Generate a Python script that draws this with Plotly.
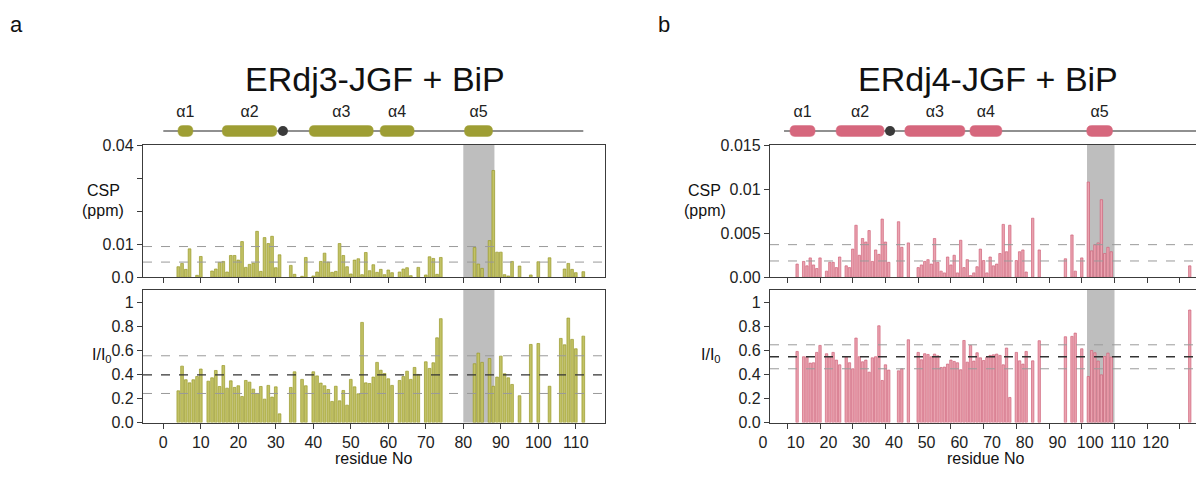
import plotly.graph_objects as go

# ---------------- data: panel a (ERdj3-JGF + BiP) ----------------
a_csp_res = [4, 5, 6, 7, 9, 10, 13, 14, 15, 16,
             17, 18, 19, 20, 21, 22, 23, 24, 25, 26,
             27, 28, 29, 30, 31, 34, 35, 37, 38, 40,
             41, 42, 43, 44, 45, 46, 47, 48, 49, 50,
             51, 52, 53, 54, 55, 56, 57, 58, 59, 60,
             61, 63, 64, 65, 66, 68, 70, 71, 72, 73,
             74, 83, 84, 85, 87, 88, 89, 90, 91, 92,
             93, 95, 98, 100, 103, 107, 108, 109, 110, 112]
a_csp_val = [0.0032, 0.0042, 0.0024, 0.0086, 0.0006, 0.0063, 0.0019, 0.0025, 0.0045, 0.0048,
             0.0016, 0.0066, 0.0066, 0.0052, 0.0108, 0.0030, 0.0039, 0.0043, 0.0139, 0.0018,
             0.0120, 0.0102, 0.0124, 0.0029, 0.0068, 0.0036, 0.0009, 0.0003, 0.0060, 0.0004,
             0.0016, 0.0048, 0.0073, 0.0046, 0.0015, 0.0018, 0.0102, 0.0066, 0.0032, 0.0010,
             0.0052, 0.0056, 0.0008, 0.0075, 0.0020, 0.0038, 0.0015, 0.0024, 0.0008, 0.0022,
             0.0014, 0.0016, 0.0025, 0.0029, 0.0005, 0.0030, 0.0007, 0.0062, 0.0057, 0.0009,
             0.0060, 0.0090, 0.0040, 0.0027, 0.0111, 0.0323, 0.0076, 0.0076, 0.0008, 0.0004,
             0.0048, 0.0034, 0.0007, 0.0047, 0.0059, 0.0025, 0.0042, 0.0024, 0.0014, 0.0017]

a_int_res = [4, 5, 6, 7, 8, 9, 10, 12, 13, 14,
             15, 16, 17, 18, 19, 20, 21, 22, 23, 24,
             25, 26, 27, 28, 29, 30, 31, 34, 35, 37,
             38, 40, 41, 42, 43, 44, 45, 46, 47, 48,
             49, 50, 51, 52, 53, 54, 55, 56, 57, 58,
             59, 60, 61, 63, 64, 65, 66, 67, 68, 70,
             71, 72, 73, 74, 83, 84, 85, 87, 88, 89,
             90, 91, 92, 93, 95, 98, 100, 103, 106, 107,
             108, 109, 110, 112]
a_int_val = [0.263, 0.468, 0.355, 0.329, 0.355, 0.382, 0.444, 0.343, 0.371, 0.432,
             0.299, 0.473, 0.285, 0.346, 0.291, 0.305, 0.216, 0.349, 0.335, 0.277,
             0.241, 0.299, 0.194, 0.308, 0.211, 0.296, 0.072, 0.291, 0.421, 0.358,
             0.305, 0.421, 0.387, 0.327, 0.305, 0.274, 0.175, 0.301, 0.180, 0.266,
             0.144, 0.358, 0.296, 0.238, 0.831, 0.329, 0.324, 0.377, 0.499, 0.434,
             0.407, 0.363, 0.308, 0.349, 0.382, 0.426, 0.358, 0.457, 0.399, 0.504,
             0.449, 0.496, 0.703, 0.862, 0.488, 0.576, 0.499, 0.531, 0.301, 0.377,
             0.551, 0.405, 0.371, 0.316, 0.222, 0.648, 0.656, 0.301, 0.698, 0.645,
             0.867, 0.690, 0.612, 0.717]

a_csp_thresholds = [0.0093, 0.0046]
a_int_mean = 0.396
a_int_sd_lines = [0.554, 0.241]
a_shade = [80.0, 88.3]
a_helix_names = ["α1", "α2", "α3", "α4", "α5"]
a_helix_start = [3.9, 15.7, 38.9, 57.8, 80.3]
a_helix_end = [7.9, 30.3, 56.0, 66.9, 87.8]
a_hpd = 31.9
a_line = [0, 112]
a_csp_ticks = [0, 0.01, 0.04]
a_csp_ticktext = ["0.0", "0.01", "0.04"]
a_csp_minor = [0.02, 0.03]

# ---------------- data: panel b (ERdj4-JGF + BiP) ----------------
b_csp_res = [3, 5, 6, 7, 8, 9, 10, 12, 13, 14,
             15, 16, 18, 19, 20, 21, 22, 23, 24, 25,
             26, 27, 28, 29, 30, 31, 34, 35, 37, 40,
             41, 42, 43, 44, 45, 46, 47, 48, 49, 50,
             51, 52, 53, 54, 55, 56, 57, 58, 59, 60,
             61, 62, 63, 64, 65, 66, 67, 68, 70, 71,
             72, 73, 75, 77, 85, 87, 88, 90, 92, 93,
             94, 95, 96, 97, 98, 99, 123]
b_csp_val = [0.0015, 0.0018, 0.0013, 0.0022, 0.0014, 0.0010, 0.0022, 0.0007, 0.0017, 0.0017,
             0.0011, 0.0023, 0.0013, 0.0011, 0.0032, 0.0059, 0.0025, 0.0044, 0.0040, 0.0053,
             0.0018, 0.0031, 0.0026, 0.0066, 0.0040, 0.0017, 0.0063, 0.0034, 0.0039, 0.0011,
             0.0014, 0.0018, 0.0020, 0.0015, 0.0044, 0.0017, 0.0007, 0.0005, 0.0023, 0.0014,
             0.0025, 0.0005, 0.0042, 0.0011, 0.0020, 0.0002, 0.0005, 0.0012, 0.0032, 0.0019,
             0.0005, 0.0023, 0.0013, 0.0015, 0.0027, 0.0060, 0.0029, 0.0059, 0.0019, 0.0029,
             0.0031, 0.0006, 0.0067, 0.0031, 0.0021, 0.0048, 0.0007, 0.0022, 0.0108, 0.0030,
             0.0037, 0.0039, 0.0088, 0.0027, 0.0034, 0.0029, 0.0013]

b_int_res = [3, 5, 6, 7, 8, 9, 10, 12, 13, 14,
             15, 16, 18, 19, 20, 21, 22, 23, 24, 25,
             26, 27, 28, 29, 30, 31, 34, 35, 37, 40,
             41, 42, 43, 44, 45, 46, 47, 48, 49, 50,
             51, 52, 53, 54, 55, 56, 57, 58, 59, 60,
             61, 62, 63, 64, 65, 66, 67, 68, 70, 71,
             72, 73, 75, 77, 85, 87, 88, 90, 92, 93,
             94, 95, 96, 97, 98, 99, 123]
b_int_val = [0.590, 0.546, 0.546, 0.493, 0.496, 0.582, 0.640, 0.571, 0.546, 0.582,
             0.518, 0.479, 0.546, 0.496, 0.446, 0.701, 0.546, 0.504, 0.518, 0.418,
             0.537, 0.546, 0.803, 0.349, 0.479, 0.435, 0.429, 0.446, 0.687, 0.582,
             0.521, 0.571, 0.565, 0.546, 0.568, 0.554, 0.457, 0.460, 0.485, 0.518,
             0.507, 0.496, 0.438, 0.681, 0.501, 0.640, 0.510, 0.579, 0.537, 0.515,
             0.540, 0.557, 0.562, 0.568, 0.557, 0.479, 0.618, 0.208, 0.582, 0.512,
             0.485, 0.590, 0.512, 0.679, 0.712, 0.715, 0.742, 0.612, 0.382, 0.598,
             0.579, 0.510, 0.396, 0.548, 0.576, 0.543, 0.934]

b_csp_thresholds = [0.0037, 0.00185]
b_int_mean = 0.546
b_int_sd_lines = [0.645, 0.446]
b_shade = [91.6, 100.0]
b_helix_names = ["α1", "α2", "α3", "α4", "α5"]
b_helix_start = [0.8, 14.9, 35.9, 55.8, 91.5]
b_helix_end = [8.5, 29.6, 54.3, 65.6, 99.4]
b_hpd = 31.4
b_line = [-1, 140]
b_csp_ticks = [0, 0.005, 0.01, 0.015]
b_csp_ticktext = ["0.00", "0.005", "0.01", "0.015"]

int_ticks = [0, 0.2, 0.4, 0.6, 0.8, 1.0]
int_ticktext = ["0.0", "0.2", "0.4", "0.6", "0.8", "1"]

x_ticks_a = list(range(0, 111, 10))
x_ticks_b = list(range(0, 121, 10))
x_labels_b = [str(v) for v in x_ticks_b]

# ---------------- layout geometry / styling ----------------
W, H = 1204, 490
OFF = 8  # page body margin of the browser
FONT = "Liberation Sans"
AX = "#3c3c3c"
OLIVE_FILL = "#c2c266"
OLIVE_LINE = "#999928"
OLIVE_HELIX = "#9e9e34"
PINK_FILL = "#eaa3b0"
PINK_LINE = "#d0637a"
PINK_HELIX = "#d6677d"
SHADE = "#bebebe"


def px_x(p):
    return (p - OFF) / W


def px_y(p):
    return 1 - (p - OFF) / H


# pixel <-> residue mapping for each panel (layout only)
A0, AS = 163.3, 3.75
B0, BS = 787.3, 3.272


def res_a(p):
    return (p - A0) / AS


def res_b(p):
    return (p - B0) / BS


csp_dom = [px_y(277.3), px_y(145)]
int_dom = [px_y(422.5), px_y(290)]
sch_dom = [px_y(140), px_y(100)]
a_dom = [px_x(143), px_x(605)]
a_range = [res_a(143), res_a(605)]
b_right_px = W + OFF
b_dom = [px_x(770), 1.0]
b_range = [res_b(770), res_b(b_right_px)]
blab_dom = [px_x(735), 1.0]
blab_range = [res_b(735), res_b(b_right_px)]
b_label_shift = -24.3 / BS  # tick labels of panel b sit left of their tick marks

fig = go.Figure()


def add_bars(res, val, xa, ya, fill, line):
    fig.add_trace(go.Bar(x=res, y=val, xaxis=xa, yaxis=ya, width=0.72,
                         marker=dict(color=fill, line=dict(color=line, width=0.7)),
                         showlegend=False, hoverinfo="x+y"))


add_bars(a_csp_res, a_csp_val, "x", "y", OLIVE_FILL, OLIVE_LINE)
add_bars(a_int_res, a_int_val, "x2", "y2", OLIVE_FILL, OLIVE_LINE)
add_bars(b_csp_res, b_csp_val, "x3", "y3", PINK_FILL, PINK_LINE)
add_bars(b_int_res, b_int_val, "x4", "y4", PINK_FILL, PINK_LINE)
# empty trace that carries the tick-label axis of panel b
fig.add_trace(go.Scatter(x=[None], y=[None], xaxis="x5", yaxis="y4", showlegend=False,
                         hoverinfo="skip"))

shapes = []


def shade(span, xa, ya):
    shapes.append(dict(type="rect", xref=xa, yref=ya + " domain", x0=span[0], x1=span[1],
                       y0=0, y1=1, fillcolor=SHADE, line=dict(width=0), layer="below"))


for xa, ya, sp in [("x", "y", a_shade), ("x2", "y2", a_shade),
                   ("x3", "y3", b_shade), ("x4", "y4", b_shade)]:
    shade(sp, xa, ya)


def hline(v, xa, ya, color, width=1.0):
    shapes.append(dict(type="line", xref=xa + " domain", yref=ya, x0=0, x1=1, y0=v, y1=v,
                       line=dict(color=color, width=width, dash="dash"), layer="above"))


for v in a_csp_thresholds:
    hline(v, "x", "y", "#9a9a9a")
for v in a_int_sd_lines:
    hline(v, "x2", "y2", "#9a9a9a")
hline(a_int_mean, "x2", "y2", "#333333", 1.3)
for v in b_csp_thresholds:
    hline(v, "x3", "y3", "#9a9a9a")
for v in b_int_sd_lines:
    hline(v, "x4", "y4", "#9a9a9a")
hline(b_int_mean, "x4", "y4", "#333333", 1.3)


# schematic: backbone line, helices (rounded), HPD dot, labels
def schematic(names, starts, ends, hpd, line_span, xa, ya, color, rx):
    fig.add_trace(go.Scatter(x=line_span, y=[0.225, 0.225], xaxis=xa, yaxis=ya, mode="lines",
                             line=dict(color="#222222", width=1.2), showlegend=False,
                             hoverinfo="skip", cliponaxis=True))
    y0, y1, ym = 0.09, 0.36, 0.225
    for s, e in zip(starts, ends):
        path = (f"M {s+rx},{y0} L {e-rx},{y0} Q {e},{y0} {e},{ym} Q {e},{y1} {e-rx},{y1} "
                f"L {s+rx},{y1} Q {s},{y1} {s},{ym} Q {s},{y0} {s+rx},{y0} Z")
        shapes.append(dict(type="path", xref=xa, yref=ya, path=path, fillcolor=color,
                           line=dict(color=color, width=0.5), layer="above"))
    fig.add_trace(go.Scatter(x=[hpd], y=[ym], xaxis=xa, yaxis=ya, mode="markers",
                             marker=dict(color="#3a3a3a", size=10), showlegend=False,
                             hoverinfo="skip"))
    fig.add_trace(go.Scatter(x=[(s + e) / 2 for s, e in zip(starts, ends)],
                             y=[0.68] * len(names), xaxis=xa, yaxis=ya, mode="text",
                             text=names, textfont=dict(family=FONT, size=16, color="#222222"),
                             showlegend=False, hoverinfo="skip"))


schematic(a_helix_names, a_helix_start, a_helix_end, a_hpd, a_line, "x", "y5", OLIVE_HELIX, 1.3)
schematic(b_helix_names, b_helix_start, b_helix_end, b_hpd, b_line, "x3", "y6", PINK_HELIX, 1.5)

TICKFONT = dict(family=FONT, size=16, color="#222222")
common = dict(showline=True, linecolor=AX, linewidth=1.3, ticks="outside", ticklen=5,
              tickwidth=1.3, tickcolor=AX, showgrid=False, zeroline=False, automargin=False,
              tickfont=TICKFONT)

fig.update_layout(
    width=W, height=H, margin=dict(l=0, r=0, t=0, b=0, pad=0, autoexpand=False),
    paper_bgcolor="white", plot_bgcolor="rgba(0,0,0,0)",
    barmode="overlay",
    xaxis=dict(domain=a_dom, range=a_range, anchor="y", tickvals=x_ticks_a,
               showticklabels=False, mirror=True, **common),
    yaxis=dict(domain=csp_dom, range=[0, 0.04], anchor="x", tickvals=a_csp_ticks,
               ticktext=a_csp_ticktext, mirror=True,
               minor=dict(tickvals=a_csp_minor, ticks="outside", ticklen=5, tickwidth=1.3,
                          tickcolor=AX, showgrid=False),
               **common),
    xaxis2=dict(domain=a_dom, range=a_range, anchor="y2", tickvals=x_ticks_a,
                mirror=True, **common),
    yaxis2=dict(domain=int_dom, range=[0, 1.1], anchor="x2", tickvals=int_ticks,
                ticktext=int_ticktext, mirror=True, **common),
    xaxis3=dict(domain=b_dom, range=b_range, anchor="y3", tickvals=x_ticks_b,
                showticklabels=False, mirror=True, **common),
    yaxis3=dict(domain=csp_dom, range=[0, 0.015], anchor="x3", tickvals=b_csp_ticks,
                ticktext=b_csp_ticktext, mirror=True, **common),
    xaxis4=dict(domain=b_dom, range=b_range, anchor="y4", tickvals=x_ticks_b,
                showticklabels=False, mirror=True, **common),
    yaxis4=dict(domain=int_dom, range=[0, 1.1], anchor="x4", tickvals=int_ticks,
                ticktext=int_ticktext, mirror=True, **common),
    xaxis5=dict(domain=blab_dom, range=blab_range, anchor="y4",
                tickvals=[v + b_label_shift for v in x_ticks_b], ticktext=x_labels_b,
                showline=False, ticks="outside", ticklen=5, tickcolor="rgba(0,0,0,0)",
                showgrid=False, zeroline=False, automargin=False, tickfont=TICKFONT),
    yaxis5=dict(domain=sch_dom, range=[0, 1], anchor="x", visible=False, automargin=False),
    yaxis6=dict(domain=sch_dom, range=[0, 1], anchor="x3", visible=False, automargin=False),
    shapes=shapes,
)

ann = []


def text(x, y, s, size):
    ann.append(dict(x=px_x(x), y=px_y(y), xref="paper", yref="paper", text=s, showarrow=False,
                    xanchor="center", yanchor="middle",
                    font=dict(family=FONT, size=size, color="#111111")))


text(16, 25, "a", 22)
text(664, 25, "b", 22)
text(375, 79, "ERdj3-JGF + BiP", 34)
text(988, 79, "ERdj4-JGF + BiP", 34)
text(103, 190, "CSP", 16)
text(103, 210, "(ppm)", 16)
text(704, 190, "CSP", 16)
text(705, 210, "(ppm)", 16)
text(102, 355, "I/I<sub>0</sub>", 16)
text(711, 355, "I/I<sub>0</sub>", 16)
text(373, 458, "residue No", 16)
text(985, 458, "residue No", 16)
fig.update_layout(annotations=ann)

fig.write_html("out.html")
